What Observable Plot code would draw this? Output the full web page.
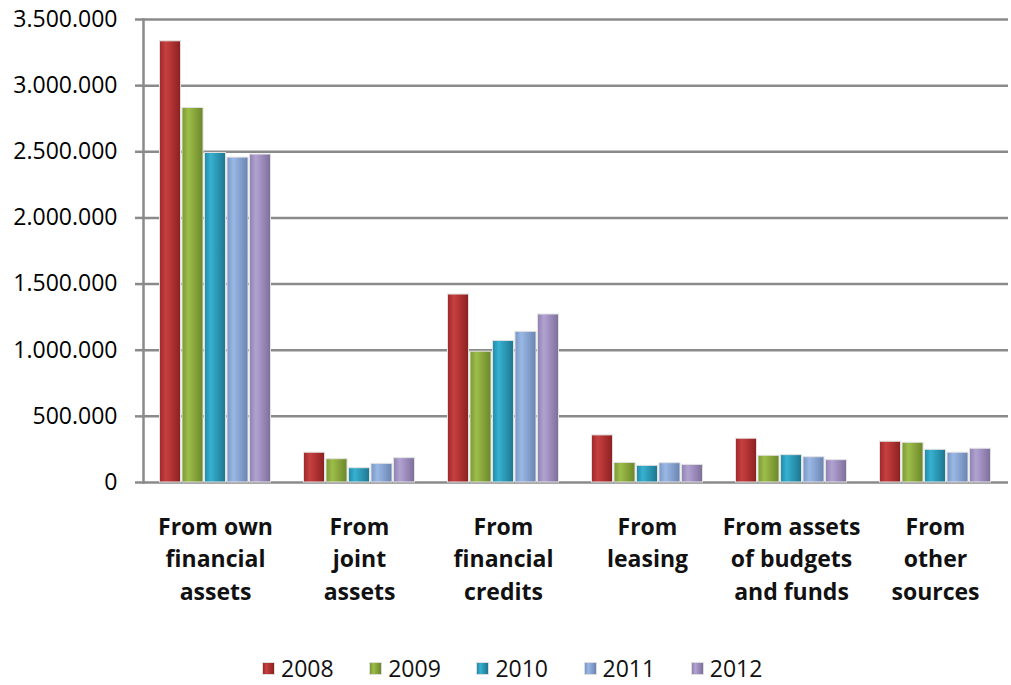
<!DOCTYPE html>
<html><head><meta charset="utf-8">
<script src="https://cdn.jsdelivr.net/npm/d3@7"></script>
<script src="https://cdn.jsdelivr.net/npm/@observablehq/plot@0.6"></script>
<style>
body{margin:0;background:#fff;font-family:"Open Sans",sans-serif;}
#legend{display:flex;justify-content:flex-start;padding-top:14px;padding-left:262px;font-family:"Open Sans",sans-serif;font-size:23px;color:#111;line-height:28px;}
#legend .item{display:flex;align-items:center;width:107.2px;flex:none;}
#legend .sw{width:13px;height:13px;margin-right:6px;border:1px solid #ddd;box-sizing:border-box;flex:none;}
</style></head><body><div id="chart"></div><div id="legend"></div>
<script>
const categories = ["From own\nfinancial\nassets","From\njoint\nassets","From\nfinancial\ncredits","From\nleasing","From assets\nof budgets\nand funds","From\nother\nsources"];
const years = ["2008","2009","2010","2011","2012"];
const v2008 = [3335000, 225000, 1421000, 356000, 331000, 308000];
const v2009 = [2831000, 176000, 989000, 148000, 202000, 300000];
const v2010 = [2491000, 108000, 1070000, 126000, 207000, 247000];
const v2011 = [2456000, 141000, 1139000, 146000, 191000, 225000];
const v2012 = [2479000, 184000, 1270000, 133000, 169000, 255000];
const yTicks = [0, 500000, 1000000, 1500000, 2000000, 2500000, 3000000, 3500000];

const seriesValues = [v2008, v2009, v2010, v2011, v2012];
const baseColors = ["#b73333", "#8aab3c", "#2b9dbd", "#86a3d3", "#a392c3"];
const gradStops = [
  ["#9a2929","#c84040","#8a2020"],
  ["#7a9832","#9dbd4a","#6b862a"],
  ["#228aa8","#38b0d0","#1c7690"],
  ["#7894c4","#9ab8e6","#6a84b0"],
  ["#9080b0","#b2a2d2","#7e6e9c"]
];

const rows = [];
years.forEach((yr, i) => categories.forEach((c, j) => rows.push({year: yr, category: c, value: seriesValues[i][j]})));

const W = 1011, H = 640, mL = 143, mR = 3, mT = 19, mB = 158;
const pIn = 0.22, pOut = 0.11;
const step = (W - mL - mR) / (categories.length - pIn + 2 * pOut);
const bw = step * (1 - pIn) / years.length;

const fmt = d3.formatLocale({decimal: ",", thousands: ".", grouping: [3], currency: ["", ""]}).format(",d");

const chart = Plot.plot({
  width: W, height: H,
  marginLeft: mL, marginRight: mR, marginTop: mT, marginBottom: mB,
  style: {fontFamily: "'Open Sans', sans-serif", background: "#fff"},
  x: {type: "band", domain: categories, paddingInner: pIn, paddingOuter: pOut, label: null},
  y: {domain: [0, 3500000], label: null},
  marks: [
    Plot.ruleY(yTicks, {stroke: "#8a8a8a", strokeWidth: 2.5}),
    Plot.frame({anchor: "left", stroke: "#8a8a8a", strokeWidth: 2.5}),
    ...years.map((yr, i) => Plot.barY(rows.filter(d => d.year === yr), {
      x: "category", y: "value", fill: baseColors[i],
      stroke: "#e2e2e2", strokeWidth: 1,
      insetLeft: i * bw + 0.5, insetRight: (years.length - 1 - i) * bw + 0.5
    })),
    Plot.axisY({ticks: yTicks, tickSize: 8, tickPadding: 18, tickFormat: fmt, stroke: "#8a8a8a", strokeWidth: 2.5, fill: "#000", fontSize: 23, label: null}),
    Plot.axisX({tickSize: 0, tickPadding: 29, fontSize: 23, fontWeight: "bold", lineHeight: 1.42, fill: "#111", label: null})
  ]
});

const svg = d3.select(chart);
const defs = svg.insert("defs", ":first-child");
years.forEach((yr, i) => {
  const g = defs.append("linearGradient").attr("id", "g" + yr).attr("x1", 0).attr("x2", 1).attr("y1", 0).attr("y2", 0);
  g.append("stop").attr("offset", "0%").attr("stop-color", gradStops[i][0]);
  g.append("stop").attr("offset", "30%").attr("stop-color", gradStops[i][1]);
  g.append("stop").attr("offset", "100%").attr("stop-color", gradStops[i][2]);
  svg.selectAll(`g[fill="${baseColors[i]}"]`).attr("fill", `url(#g${yr})`);
});
document.getElementById("chart").appendChild(chart);

const legend = d3.select("#legend");
years.forEach((yr, i) => {
  const it = legend.append("div").attr("class", "item");
  it.append("div").attr("class", "sw").style("background", `linear-gradient(to right, ${gradStops[i][0]}, ${gradStops[i][1]} 30%, ${gradStops[i][2]})`);
  it.append("span").text(yr);
});
</script></body></html>
